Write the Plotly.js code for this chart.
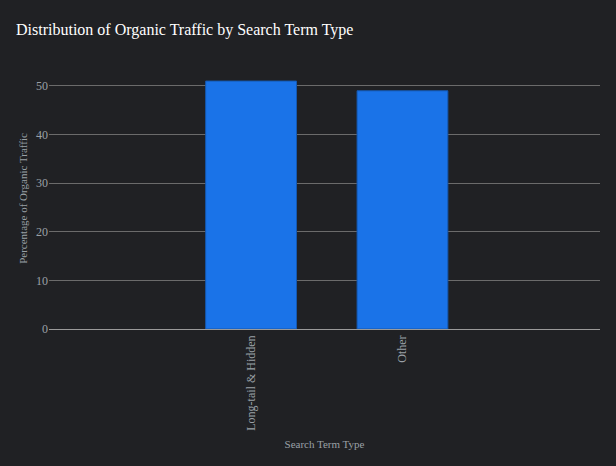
<!DOCTYPE html>
<html>
<head>
<meta charset="utf-8">
<script src="https://cdn.plot.ly/plotly-3.0.1.min.js"></script>
<style>
  html, body { margin: 0; padding: 0; background: #202124; }
  #chart { width: 616px; height: 466px; }
</style>
</head>
<body>
<div id="chart"></div>
<script>
// search term types and their share of organic traffic (%)
const termTypes = ["Long-tail & Hidden", "Other"];
const trafficShare = [51, 49];

const serif = "Times New Roman, Liberation Serif, serif";

let trace = {
	type: "bar",
	x: termTypes,
	y: trafficShare,
	width: 0.6,
	marker: {
		color: "#1a73e8",
		line: { color: "#1558b0", width: 1 }
	},
	hoverinfo: "x+y"
};

let layout = {
	width: 616,
	height: 466,
	paper_bgcolor: "#202124",
	plot_bgcolor: "#202124",
	font: { family: serif, color: "#9aa0a6", size: 12 },
	title: {
		text: "Distribution of Organic Traffic by Search Term Type",
		font: { family: serif, size: 16, color: "#ffffff" },
		x: 0.026, xanchor: "left",
		y: 0.936, yanchor: "middle"
	},
	margin: { l: 49, r: 16, t: 68, b: 137 },
	showlegend: false,
	xaxis: {
		title: { text: "Search Term Type", font: { size: 11, color: "#9aa0a6" }, standoff: 10 },
		automargin: true,
		range: [-1.335, 2.305],
		tickangle: -90,
		ticklabelstandoff: 3,
		showgrid: false,
		zeroline: false,
		showline: false,
		tickfont: { size: 12, color: "#9aa0a6" }
	},
	yaxis: {
		title: { text: "Percentage of Organic Traffic", font: { size: 11, color: "#9aa0a6" }, standoff: 6 },
		automargin: true,
		gridcolor: "#6b6b6b",
		zeroline: true,
		zerolinecolor: "#9a9a9a",
		zerolinewidth: 1,
		tickfont: { size: 12, color: "#9aa0a6" },
		dtick: 10
	}
};

Plotly.newPlot("chart", [trace], layout, { displayModeBar: false, responsive: false });
</script>
</body>
</html>
